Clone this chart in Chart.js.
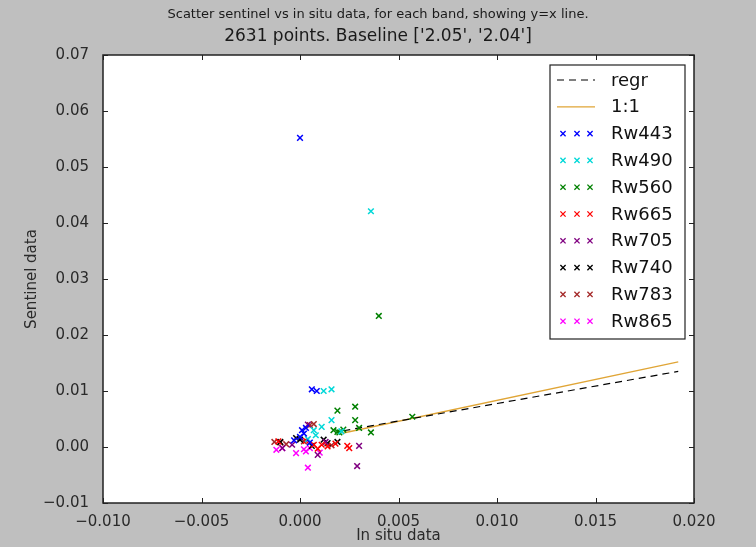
<!DOCTYPE html>
<html>
<head>
<meta charset="utf-8">
<script src="https://cdn.jsdelivr.net/npm/chart.js@4.4.0/dist/chart.umd.min.js"></script>
<style>
  html, body { margin: 0; padding: 0; background: #bfbfbf; }
  #wrap { width: 756px; height: 547px; }
</style>
</head>
<body>
<div id="wrap"><canvas id="chart" width="756" height="547"></canvas></div>
<script>
// band names and the points, [in situ, sentinel]
const bands = ['Rw443', 'Rw490', 'Rw560', 'Rw665', 'Rw705', 'Rw740', 'Rw783', 'Rw865'];

const rw443 = [[0.0000, 0.0552], [0.0006, 0.0103], [0.00085, 0.0100], [0.0001, 0.0030], [0.0002, 0.0024],
               [0.0000, 0.0018], [0.0003, 0.0034], [-0.0003, 0.0012], [0.0005, 0.0008]];
const rw490 = [[0.0036, 0.0421], [0.0012, 0.0100], [0.0016, 0.0103], [0.0016, 0.0048], [0.0007, 0.0030],
               [0.0008, 0.0021], [0.0011, 0.0036], [0.0021, 0.0028], [0.0004, 0.0014]];
const rw560 = [[0.0040, 0.0234], [0.0019, 0.0065], [0.0028, 0.0072], [0.0028, 0.0048], [0.0036, 0.0026],
               [0.0030, 0.0034], [0.0017, 0.0030], [0.0019, 0.0027], [0.0020, 0.0026], [0.0057, 0.0054],
               [0.0022, 0.0031]];
const rw665 = [[0.0007, 0.0004], [0.0011, 0.0004], [0.0014, 0.0001], [0.0024, 0.0002], [0.0025, -0.0002],
               [-0.0011, 0.0010], [0.0003, 0.0011], [0.0018, 0.0006], [0.0009, -0.0003]];
const rw705 = [[-0.0009, -0.0002], [0.0009, -0.0014], [0.0030, 0.0002], [0.0029, -0.0034], [0.0004, 0.0040],
               [0.0013, 0.0009], [-0.0004, 0.0004]];
const rw740 = [[-0.0002, 0.0016], [0.0000, 0.0013], [0.0012, 0.0013], [0.0014, 0.0007], [0.0019, 0.0009],
               [0.0006, 0.0002], [-0.0010, 0.0009]];
const rw783 = [[-0.0013, 0.0009], [-0.0010, 0.0008], [-0.0007, 0.0005], [0.0005, 0.0039], [0.0007, 0.0041],
               [0.0002, 0.0010], [0.0016, 0.0003]];
const rw865 = [[-0.0012, -0.0005], [-0.0009, -0.0002], [-0.0002, -0.0011], [0.0003, -0.0008], [0.0005, -0.0002],
               [0.0004, -0.0037], [0.0010, -0.0010], [0.0002, -0.0004]];

// fitted line and 1:1 line end points, as drawn in the picture
const lineX = [0.0022, 0.0192];
const regrY = [0.0029, 0.0135];
const oneToOneY = [0.0025, 0.0152];

// axis ticks
const xTicks = [-0.010, -0.005, 0.000, 0.005, 0.010, 0.015, 0.020];
const yTicks = [-0.01, 0.00, 0.01, 0.02, 0.03, 0.04, 0.05, 0.06, 0.07];

const bandColors = ['#0000ff', '#00d8d8', '#008000', '#ff0000', '#800080', '#000000', '#a52a2a', '#ff00ff'];
const FONT = 'DejaVu Sans';

const toPoints = arr => arr.map(p => ({ x: p[0], y: p[1] }));
const fmt = (v, d) => (v < 0 ? '\u2212' : '') + Math.abs(v).toFixed(d);

const datasets = [
    {
        label: 'regr', type: 'line', showLine: true, order: 10,
        data: lineX.map((x, i) => ({ x, y: regrY[i] })),
        borderColor: '#000000', borderWidth: 1.2, borderDash: [7, 5], pointRadius: 0
    },
    {
        label: '1:1', type: 'line', showLine: true, order: 10,
        data: lineX.map((x, i) => ({ x, y: oneToOneY[i] })),
        borderColor: '#e0a536', borderWidth: 1.3, pointRadius: 0
    }
];
[rw443, rw490, rw560, rw665, rw705, rw740, rw783, rw865].forEach((arr, i) => {
    datasets.push({
        label: bands[i], order: 0,
        data: toPoints(arr),
        pointStyle: 'crossRot', pointRadius: 4, pointHoverRadius: 4,
        borderColor: bandColors[i], backgroundColor: bandColors[i], pointBorderWidth: 1.5
    });
});

// frame with inward ticks on all four sides, like matplotlib classic
const framePlugin = {
    id: 'frame',
    afterDatasetsDraw(chart) {
        const { ctx, chartArea: a, scales } = chart;
        ctx.save();
        ctx.strokeStyle = '#222';
        ctx.lineWidth = 1;
        const len = 5;
        ctx.beginPath();
        xTicks.forEach(v => {
            const px = Math.round(scales.x.getPixelForValue(v)) + 0.5;
            ctx.moveTo(px, a.bottom); ctx.lineTo(px, a.bottom - len);
            ctx.moveTo(px, a.top); ctx.lineTo(px, a.top + len);
        });
        yTicks.forEach(v => {
            const py = Math.round(scales.y.getPixelForValue(v)) + 0.5;
            ctx.moveTo(a.left, py); ctx.lineTo(a.left + len, py);
            ctx.moveTo(a.right, py); ctx.lineTo(a.right - len, py);
        });
        ctx.stroke();
        ctx.lineWidth = 1.5;
        ctx.strokeRect(a.left, a.top, a.right - a.left, a.bottom - a.top);
        ctx.restore();
    }
};

// legend box inside the axes, upper right
const legendPlugin = {
    id: 'innerLegend',
    afterDraw(chart) {
        const { ctx, chartArea: a } = chart;
        const sets = chart.data.datasets;
        const boxR = a.right - 9, boxT = a.top + 10;
        const boxW = 135, rowH = 26.8;
        const boxH = rowH * sets.length + 6;
        const boxL = boxR - boxW;
        ctx.save();
        ctx.fillStyle = '#ffffff';
        ctx.fillRect(boxL, boxT, boxW, boxH);
        ctx.strokeStyle = '#222';
        ctx.lineWidth = 1.2;
        ctx.strokeRect(boxL, boxT, boxW, boxH);
        ctx.font = '18px "' + FONT + '"';
        ctx.textBaseline = 'middle';
        sets.forEach((ds, i) => {
            const y = boxT + 15 + i * rowH;
            ctx.strokeStyle = ds.borderColor;
            if (ds.type === 'line') {
                ctx.lineWidth = ds.borderWidth;
                ctx.setLineDash(ds.borderDash || []);
                ctx.beginPath();
                ctx.moveTo(boxL + 7, y); ctx.lineTo(boxL + 45, y);
                ctx.stroke();
                ctx.setLineDash([]);
            } else {
                ctx.lineWidth = 1.3;
                [13, 27, 40].forEach(dx => {
                    const cx = boxL + dx, r = 2.6;
                    ctx.beginPath();
                    ctx.moveTo(cx - r, y - r); ctx.lineTo(cx + r, y + r);
                    ctx.moveTo(cx - r, y + r); ctx.lineTo(cx + r, y - r);
                    ctx.stroke();
                });
            }
            ctx.fillStyle = '#111';
            ctx.fillText(ds.label, boxL + 61, y + 1);
        });
        ctx.restore();
    }
};

new Chart(document.getElementById('chart'), {
    type: 'scatter',
    data: { datasets },
    plugins: [framePlugin, legendPlugin, {
        id: 'bg',
        beforeDraw(chart) {
            const { ctx, chartArea: a } = chart;
            ctx.save();
            ctx.fillStyle = '#ffffff';
            ctx.fillRect(a.left, a.top, a.right - a.left, a.bottom - a.top);
            ctx.restore();
        }
    }],
    options: {
        responsive: false,
        animation: false,
        layout: { padding: 0 },
        plugins: {
            legend: { display: false },
            tooltip: { enabled: false },
            title: {
                display: true,
                text: 'Scatter sentinel vs in situ data, for each band, showing y=x line.',
                font: { family: FONT, size: 13, weight: 'normal' },
                color: '#1a1a1a',
                padding: { top: 7, bottom: 4 }
            },
            subtitle: {
                display: true,
                text: "2631 points. Baseline ['2.05', '2.04']",
                font: { family: FONT, size: 17, weight: 'normal' },
                color: '#1a1a1a',
                padding: { top: 0, bottom: 8 }
            }
        },
        scales: {
            x: {
                type: 'linear', min: -0.01, max: 0.02,
                afterBuildTicks: s => { s.ticks = xTicks.map(v => ({ value: v })); },
                afterFit: s => { s.height = 44; },
                grid: { display: false },
                border: { display: false },
                ticks: {
                    callback: v => fmt(v, 3), padding: 2, maxRotation: 0,
                    color: '#2a2a2a', font: { family: FONT, size: 15 }
                },
                title: {
                    display: true, text: 'In situ data', color: '#2a2a2a',
                    font: { family: FONT, size: 15 }, padding: { top: 0, bottom: 2 }
                }
            },
            y: {
                type: 'linear', min: -0.01, max: 0.07,
                afterBuildTicks: s => { s.ticks = yTicks.map(v => ({ value: v })); },
                afterFit: s => { s.width = 103; },
                grid: { display: false },
                border: { display: false },
                ticks: {
                    callback: v => fmt(v, 2), padding: 6,
                    color: '#2a2a2a', font: { family: FONT, size: 15 }
                },
                title: {
                    display: true, text: 'Sentinel data', color: '#2a2a2a',
                    font: { family: FONT, size: 15 }, padding: { top: 23, bottom: 0 }
                }
            },
            // empty axis on the right keeps the figure margin there
            yRight: {
                type: 'linear', position: 'right', display: true,
                afterFit: s => { s.width = 62; },
                grid: { display: false },
                border: { display: false },
                ticks: { display: false }
            }
        }
    }
});
</script>
</body>
</html>
